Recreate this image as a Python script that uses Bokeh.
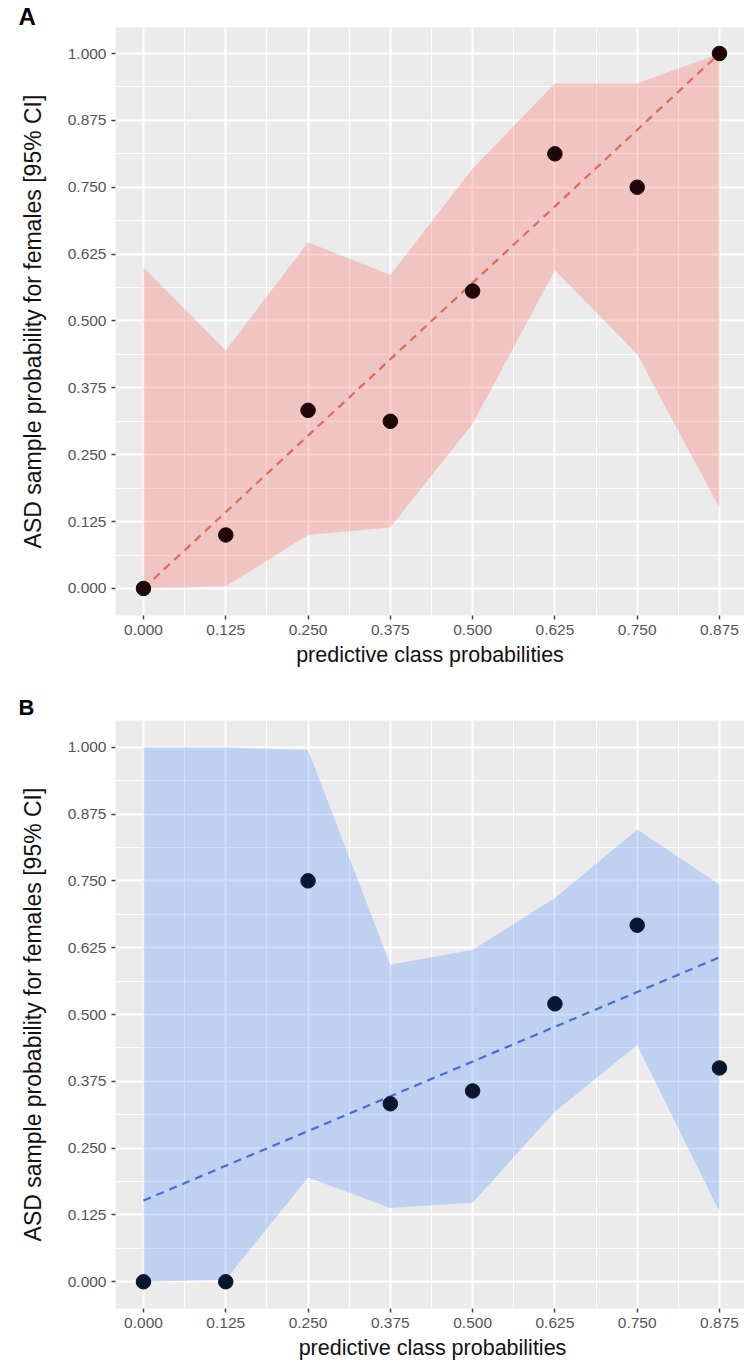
from bokeh.plotting import figure
from bokeh.layouts import column
from bokeh.models import Range1d, FixedTicker, PrintfTickFormatter, ColumnDataSource
from bokeh.embed import file_html
from bokeh.resources import INLINE

# ---------------- data ----------------
x_probs = [0.0, 0.125, 0.25, 0.375, 0.5, 0.625, 0.75, 0.875]
tick_values = [0.0, 0.125, 0.25, 0.375, 0.5, 0.625, 0.75, 0.875, 1.0]

# Panel A
a_obs = [0.0, 0.10, 0.333, 0.3125, 0.556, 0.8125, 0.75, 1.0]
a_lower = [0.0, 0.004, 0.10, 0.114, 0.308, 0.595, 0.438, 0.151]
a_upper = [0.60, 0.445, 0.647, 0.586, 0.785, 0.944, 0.944, 1.0]
a_fit_x = [0.0, 0.875]
a_fit_y = [0.0, 1.0]

# Panel B
b_obs = [0.0, 0.0, 0.75, 0.333, 0.357, 0.52, 0.667, 0.40]
b_lower = [0.0, 0.004, 0.195, 0.138, 0.148, 0.318, 0.443, 0.131]
b_upper = [1.0, 1.0, 0.995, 0.593, 0.621, 0.718, 0.846, 0.743]
b_fit_x = [0.0, 0.875]
b_fit_y = [0.152, 0.607]

FONT = "Liberation Sans"


def make_panel(letter, obs, lower, upper, fit_x, fit_y, ribbon_color, ribbon_alpha,
               line_color, point_color, height, left, top, bottom, fw, xr, yr,
               letter_offset, letter_size, letter_standoff):
    p = figure(width=744, height=height, output_backend="svg", toolbar_location=None,
               x_range=Range1d(*xr), y_range=Range1d(*yr),
               frame_width=fw, frame_height=588,
               min_border_left=left, min_border_top=top, min_border_bottom=bottom,
               min_border_right=0)
    p.background_fill_color = "#EBEBEB"
    p.border_fill_color = "white"
    p.outline_line_color = None

    # panel letter as a left-aligned title shifted into the left margin
    p.title.text = letter
    p.title.align = "left"
    p.title.offset = letter_offset
    p.title.standoff = letter_standoff
    p.title.text_font = FONT
    p.title.text_font_style = "bold"
    p.title.text_font_size = letter_size
    p.title.text_color = "black"

    minor = [(tick_values[i] + tick_values[i + 1]) / 2 for i in range(len(tick_values) - 1)]
    xt = FixedTicker(ticks=x_probs, minor_ticks=minor)
    yt = FixedTicker(ticks=tick_values, minor_ticks=minor)
    p.xaxis.ticker = xt
    p.yaxis.ticker = yt
    p.xgrid.ticker = xt
    p.ygrid.ticker = yt
    for g in (p.xgrid, p.ygrid):
        g.grid_line_color = "white"
        g.grid_line_width = 2
        g.minor_grid_line_color = "white"
        g.minor_grid_line_width = 1

    for ax in (p.xaxis, p.yaxis):
        ax.formatter = PrintfTickFormatter(format="%.3f")
        ax.axis_line_color = None
        ax.major_tick_line_color = "#444444"
        ax.major_tick_line_width = 1.5
        ax.major_tick_out = 4
        ax.major_tick_in = 0
        ax.minor_tick_line_color = None
        ax.major_label_text_font = FONT
        ax.major_label_text_font_size = "15.5px"
        ax.major_label_text_color = "#555555"
        ax.axis_label_text_font = FONT
        ax.axis_label_text_font_style = "normal"
        ax.axis_label_text_color = "#111111"
    p.xaxis.axis_label = "predictive class probabilities"
    p.xaxis.axis_label_text_font_size = "21.5px"
    p.xaxis.major_label_standoff = 5
    p.xaxis.axis_label_standoff = 5
    p.yaxis.axis_label = "ASD sample probability for females [95% CI]"
    p.yaxis.axis_label_text_font_size = "23px"
    p.yaxis.major_label_standoff = 5
    p.yaxis.axis_label_standoff = 19

    src = ColumnDataSource(dict(x=x_probs, obs=obs, lower=lower, upper=upper))
    p.varea(x="x", y1="lower", y2="upper", source=src,
            fill_color=ribbon_color, fill_alpha=ribbon_alpha)
    p.line(fit_x, fit_y, line_color=line_color, line_width=2.2, line_dash="8 6")
    p.scatter(x="x", y="obs", source=src, size=14.5, fill_color=point_color,
              line_color=point_color)
    return p


pa = make_panel("A", a_obs, a_lower, a_upper, a_fit_x, a_fit_y, "#F8766D", 0.33,
                "#DC6A60", "#1E0705", 680, 115, 27, 65, 629,
                (-0.0425, 0.913), (-0.0505, 1.0486), -97, "24px", -5)
pb = make_panel("B", b_obs, b_lower, b_upper, b_fit_x, b_fit_y, "#619CFF", 0.32,
                "#4A6CD4", "#0A1530", 684, 110, 40, 56, 634,
                (-0.0425, 0.9206), (-0.05, 1.05), -97, "22px", 2)

layout = column(pa, pb, spacing=0)
open("out.html", "w").write(file_html(layout, INLINE))
